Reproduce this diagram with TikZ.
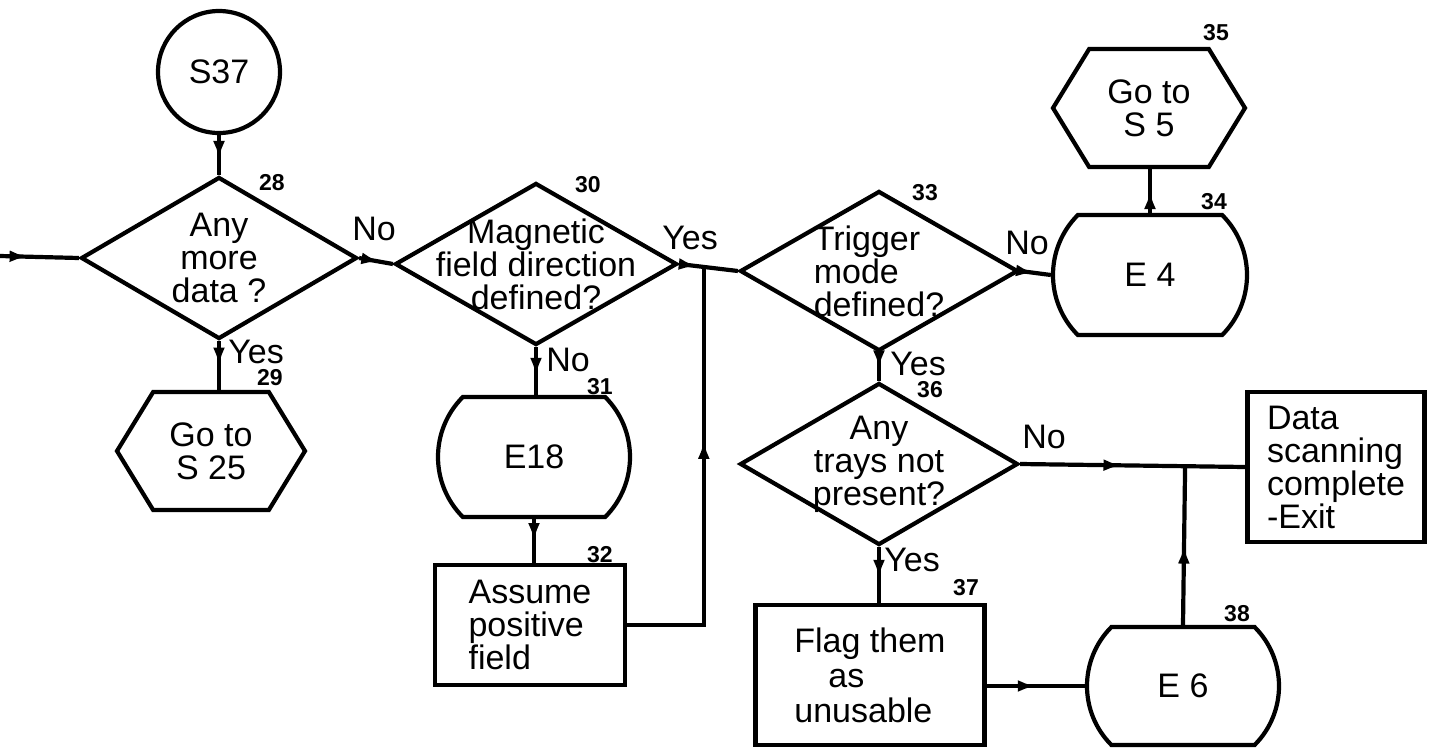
\documentclass[tikz,border=0pt]{standalone}
\usepackage{fontspec}
\setmainfont{Liberation Sans}
\usetikzlibrary{shapes.geometric,shapes.misc,shapes.symbols,calc,decorations.markings,arrows.meta}
\begin{document}
\begin{tikzpicture}[x=0.5pt,y=-0.5pt,
  ln/.style={line width=2.1pt},
  arr/.style={ln,postaction={decorate},decoration={markings,mark=at position #1 with {\arrow{Latex[length=9pt,width=6pt]}}}},
  arr/.default=0.5,
  txt/.style={font=\fontsize{17}{16.5}\selectfont,align=center,inner sep=0pt},
  num/.style={font=\fontsize{11.5}{12}\selectfont\bfseries,inner sep=0pt},
  yn/.style={font=\fontsize{17}{16}\selectfont,inner sep=0pt},
  dia/.style={diamond,draw,ln,inner sep=0pt},
  ebar/.style={rounded rectangle,rounded rectangle arc length=90,draw,ln,inner sep=0pt,minimum width=96pt,minimum height=60pt,txt},
  hexa/.style={signal,signal to=west and east,signal pointer angle=117,draw,ln,inner sep=0pt,minimum width=94pt,minimum height=59pt,txt},
  box/.style={rectangle,draw,ln,inner sep=0pt,txt,align=left},
]
\fill[white] (0,0) rectangle (1432,751);
\useasboundingbox (0,0) rectangle (1432,751);

% shapes
\node[circle,draw,ln,minimum size=61pt,inner sep=0pt,txt] (s37) at (219,72) {S37};
\node[dia,minimum width=138pt,minimum height=81pt,label={[txt,name=t28]center:Any\\more\\data ?}] (d28) at (219,258) {};
\node[hexa] (h29) at (211,451) {Go to\\S 25};
\node[dia,minimum width=141pt,minimum height=81pt,label={[txt,name=t30]center:Magnetic\\field direction\\defined?}] (d30) at (536,264) {};
\node[ebar] (e18) at (534,457) {E18};
\node[box,minimum width=95pt,minimum height=60pt] (b32) at (530,625) {Assume\\positive\\field};
\node[dia,minimum width=139pt,minimum height=80pt,label={[txt,align=left,name=t33]center:Trigger\\mode\\defined?}] (d33) at (879,271) {};
\node[ebar,minimum width=97pt] (e4) at (1150,275) {E 4};
\node[hexa,minimum width=96pt] (h35) at (1149,108) {Go to\\S 5};
\node[dia,minimum width=139pt,minimum height=81pt,label={[txt,name=t36]center:Any\\trays not\\present?}] (d36) at (879,464) {};
\node[box,minimum width=114.5pt,minimum height=70pt,font=\fontsize{17}{17.5}\selectfont] (b37) at (870,675) {Flag them\\\hspace{1em}as\\unusable};
\node[ebar,minimum height=59pt] (e6) at (1183,686) {E 6};
\node[box,minimum width=88.5pt,minimum height=75pt] (ex) at (1336,467) {Data\\scanning\\complete\\-Exit};

% reference numbers
\node[num] (n28) at (272,183) {28};
\node[num] (n29) at (270,378) {29};
\node[num] (n30) at (588,185) {30};
\node[num] (n31) at (600,387) {31};
\node[num] (n32) at (600,555) {32};
\node[num] (n33) at (925,193) {33};
\node[num] (n34) at (1214,202) {34};
\node[num] (n35) at (1216,33) {35};
\node[num] (n36) at (930,390) {36};
\node[num] (n37) at (966,588) {37};
\node[num] (n38) at (1237,614) {38};

% yes / no
\node[yn] (no28) at (374,229) {No};
\node[yn] (yes28) at (256,352) {Yes};
\node[yn] (no30) at (568,360) {No};
\node[yn] (yes30) at (690,238) {Yes};
\node[yn] (no33) at (1027,243) {No};
\node[yn] (yes33) at (918,364) {Yes};
\node[yn] (no36) at (1044,437) {No};
\node[yn] (yes36) at (912,560) {Yes};

% connectors
\coordinate (in) at (0,256);
\draw[arr=0.35] (in) -- (d28.west);
\draw[arr=0.6] (s37.south) -- (d28.north);
\draw[arr=0.6] (d28.east) -- (d30.west);
\draw[arr=0.5] (d28.south) -- (d28.south |- h29.north);
\draw[arr=0.6] (d30.south) -- (d30.south |- e18.north);
\draw[arr=0.5] (e18.south) -- (e18.south |- b32.north);
\coordinate (j1) at ($(d30.east)!0.42!(d33.west)$);
\draw[arr=0.3] (d30.east) -- (d33.west);
\draw[arr=0.6] (b32.east) -| (j1);
\draw[arr=0.45] (d33.east) -- (e4.west);
\draw[arr=0.5] (e4.north) -- (e4.north |- h35.south);
\draw[arr=0.55] (d33.south) -- (d36.north);
\draw[arr=0.45] (d36.east) -- (ex.west);
\draw[arr=0.55] (d36.south) -- (d36.south |- b37.north);
\draw[arr=0.5] (b37.east |- e6.west) -- (e6.west);
\coordinate (j2) at ($(d36.east)!(e6.north)!(ex.west)$);
\draw[arr=0.5] (e6.north) -- (j2);
\end{tikzpicture}
\end{document}
